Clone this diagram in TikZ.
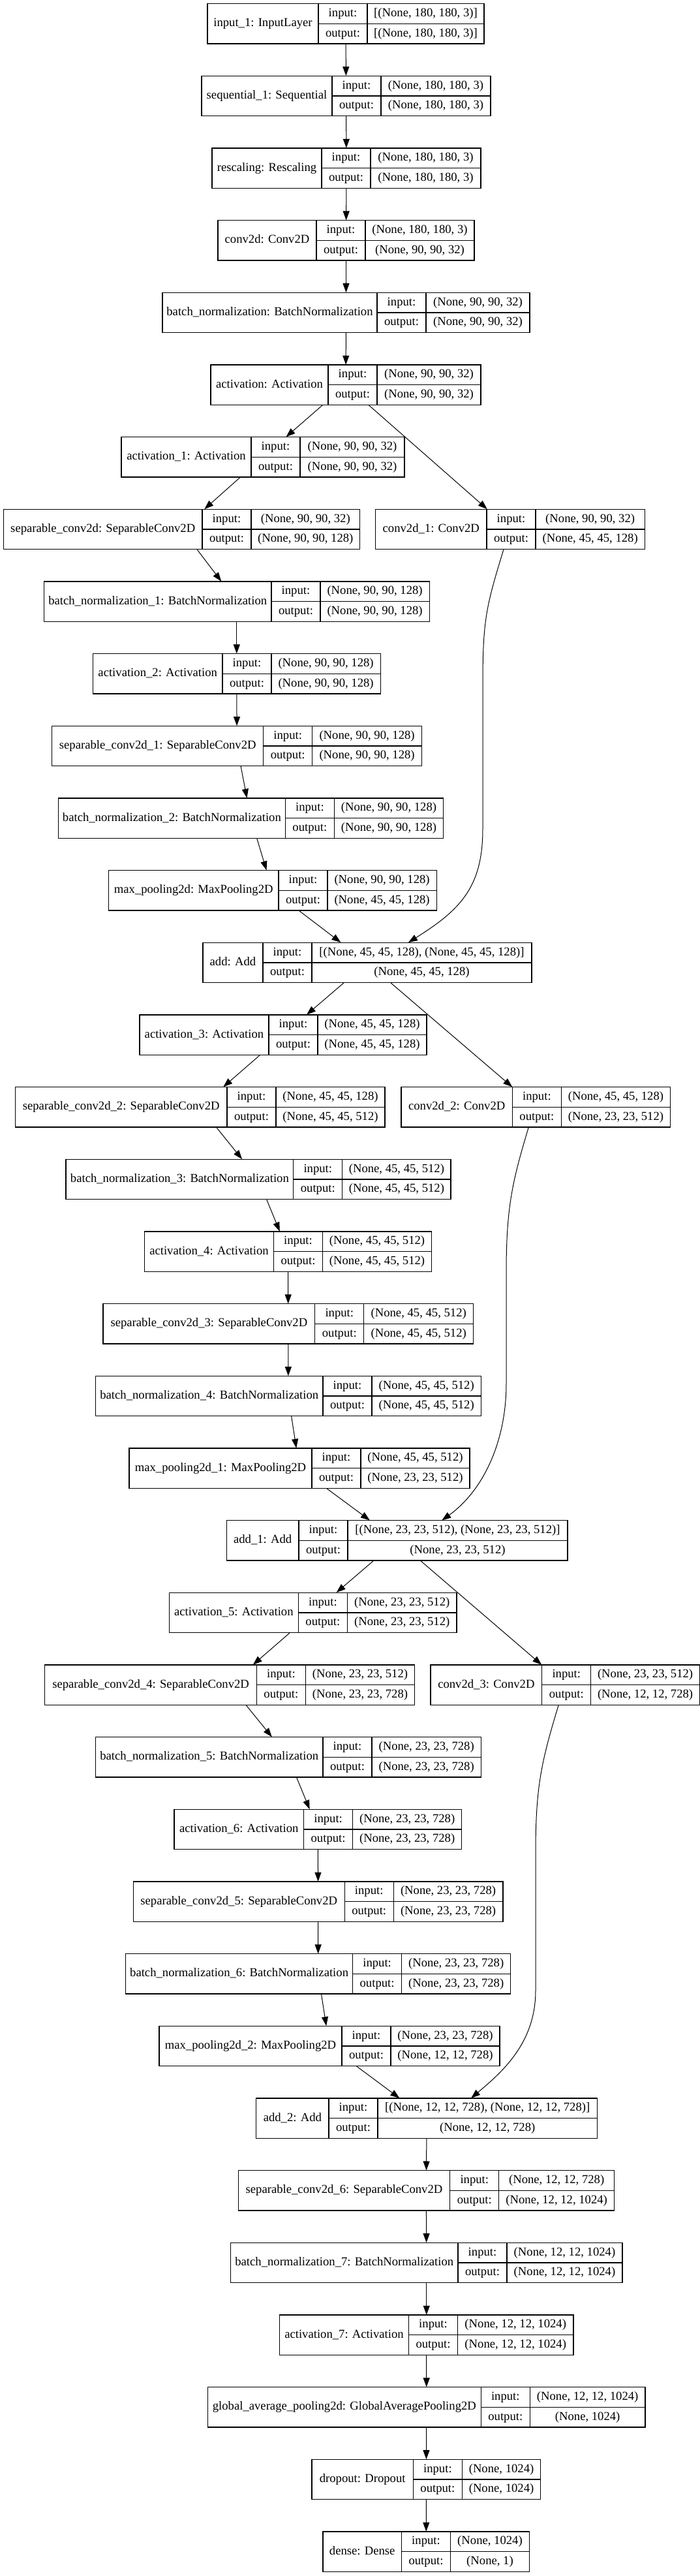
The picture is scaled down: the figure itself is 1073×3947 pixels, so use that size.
\documentclass[tikz,border=0pt]{standalone}
\usepackage{fontspec}
\setmainfont{Liberation Serif}
\usetikzlibrary{arrows.meta, positioning, fit, calc}

\newcommand{\pxunit}{0.75pt}
% one layer record: name, row, left, split, right, label, input, output
\newcommand{\layerbox}[8]{%
  \node[namecell, minimum width={(#4-#3)*\pxunit}] (#1-name) at (#3,{5.7+110.667*#2}) {#6};
  \node[iocell, anchor=north west] (#1-in) at (#1-name.north east) {input:};
  \node[iocell, below=0pt of #1-in] (#1-out) {output:};
  \node[valcell, minimum width={(#5-#4-75)*\pxunit}, right=0pt of #1-in] (#1-inval) {#7};
  \node[valcell, minimum width={(#5-#4-75)*\pxunit}, right=0pt of #1-out] (#1-outval) {#8};
  \node[fit=(#1-name)(#1-outval), inner sep=0pt] (#1) {};
}

\begin{document}
\begin{tikzpicture}[
  x=0.75pt, y=-0.75pt,
  cell/.style={
    draw,
    line width=1pt,
    rectangle,
    outer sep=0pt,
    inner sep=0pt,
    text height=9.5pt,
    text depth=3pt,
    font=\fontsize{14pt}{16pt}\selectfont
  },
  namecell/.style={cell, anchor=north west, minimum height=46pt},
  iocell/.style={cell, minimum width=75*\pxunit, minimum height=23pt},
  valcell/.style={cell, minimum height=23pt},
  flow/.style={line width=0.75pt, -{Triangle[length=10.5pt, width=7.5pt]}}
]

  \useasboundingbox (0,0) rectangle (1073,3947);

  % stem
  \layerbox{inp}{0}{318}{488}{742}{input\_1: InputLayer}{[(None, 180, 180, 3)]}{[(None, 180, 180, 3)]}
  \layerbox{seq}{1}{309}{509}{752}{sequential\_1: Sequential}{(None, 180, 180, 3)}{(None, 180, 180, 3)}
  \layerbox{rescale}{2}{325}{493}{737}{rescaling: Rescaling}{(None, 180, 180, 3)}{(None, 180, 180, 3)}
  \layerbox{conv}{3}{334}{485}{727}{conv2d: Conv2D}{(None, 180, 180, 3)}{(None, 90, 90, 32)}
  \layerbox{bn}{4}{249}{578}{812}{batch\_normalization: BatchNormalization}{(None, 90, 90, 32)}{(None, 90, 90, 32)}
  \layerbox{act}{5}{323}{503}{737}{activation: Activation}{(None, 90, 90, 32)}{(None, 90, 90, 32)}

  % first block
  \layerbox{act1}{6}{186}{385}{620}{activation\_1: Activation}{(None, 90, 90, 32)}{(None, 90, 90, 32)}
  \layerbox{sep}{7}{5.5}{310}{551.6}{separable\_conv2d: SeparableConv2D}{(None, 90, 90, 32)}{(None, 90, 90, 128)}
  \layerbox{conv1}{7}{575.6}{746}{988.3}{conv2d\_1: Conv2D}{(None, 90, 90, 32)}{(None, 45, 45, 128)}
  \layerbox{bn1}{8}{67.4}{416}{658.2}{batch\_normalization\_1: BatchNormalization}{(None, 90, 90, 128)}{(None, 90, 90, 128)}
  \layerbox{act2}{9}{142.4}{341}{583.2}{activation\_2: Activation}{(None, 90, 90, 128)}{(None, 90, 90, 128)}
  \layerbox{sep1}{10}{79.8}{403.7}{646.5}{separable\_conv2d\_1: SeparableConv2D}{(None, 90, 90, 128)}{(None, 90, 90, 128)}
  \layerbox{bn2}{11}{89.4}{437.4}{679.5}{batch\_normalization\_2: BatchNormalization}{(None, 90, 90, 128)}{(None, 90, 90, 128)}
  \layerbox{pool}{12}{166.4}{427}{669.2}{max\_pooling2d: MaxPooling2D}{(None, 90, 90, 128)}{(None, 45, 45, 128)}
  \layerbox{add}{13}{310.9}{403}{815}{add: Add}{[(None, 45, 45, 128), (None, 45, 45, 128)]}{(None, 45, 45, 128)}

  % second block
  \layerbox{act3}{14}{213.9}{412}{654}{activation\_3: Activation}{(None, 45, 45, 128)}{(None, 45, 45, 128)}
  \layerbox{sep2}{15}{23.4}{348}{590}{separable\_conv2d\_2: SeparableConv2D}{(None, 45, 45, 128)}{(None, 45, 45, 512)}
  \layerbox{conv2}{15}{615}{785.4}{1027.5}{conv2d\_2: Conv2D}{(None, 45, 45, 128)}{(None, 23, 23, 512)}
  \layerbox{bn3}{16}{101}{449.8}{691}{batch\_normalization\_3: BatchNormalization}{(None, 45, 45, 512)}{(None, 45, 45, 512)}
  \layerbox{act4}{17}{221.5}{419.5}{661.6}{activation\_4: Activation}{(None, 45, 45, 512)}{(None, 45, 45, 512)}
  \layerbox{sep3}{18}{158}{482.8}{725.6}{separable\_conv2d\_3: SeparableConv2D}{(None, 45, 45, 512)}{(None, 45, 45, 512)}
  \layerbox{bn4}{19}{146.5}{495}{737.3}{batch\_normalization\_4: BatchNormalization}{(None, 45, 45, 512)}{(None, 45, 45, 512)}
  \layerbox{pool1}{20}{198}{478}{720}{max\_pooling2d\_1: MaxPooling2D}{(None, 45, 45, 512)}{(None, 23, 23, 512)}
  \layerbox{add1}{21}{347.3}{458}{870}{add\_1: Add}{[(None, 23, 23, 512), (None, 23, 23, 512)]}{(None, 23, 23, 512)}

  % third block
  \layerbox{act5}{22}{259.3}{457.4}{700}{activation\_5: Activation}{(None, 23, 23, 512)}{(None, 23, 23, 512)}
  \layerbox{sep4}{23}{68.8}{393.4}{635.5}{separable\_conv2d\_4: SeparableConv2D}{(None, 23, 23, 512)}{(None, 23, 23, 728)}
  \layerbox{conv3}{23}{660}{830.8}{1072.4}{conv2d\_3: Conv2D}{(None, 23, 23, 512)}{(None, 12, 12, 728)}
  \layerbox{bn5}{24}{146.5}{495}{737.3}{batch\_normalization\_5: BatchNormalization}{(None, 23, 23, 728)}{(None, 23, 23, 728)}
  \layerbox{act6}{25}{266.9}{465.6}{707.7}{activation\_6: Activation}{(None, 23, 23, 728)}{(None, 23, 23, 728)}
  \layerbox{sep5}{26}{204.3}{528.2}{771}{separable\_conv2d\_5: SeparableConv2D}{(None, 23, 23, 728)}{(None, 23, 23, 728)}
  \layerbox{bn6}{27}{192.6}{540.6}{782.7}{batch\_normalization\_6: BatchNormalization}{(None, 23, 23, 728)}{(None, 23, 23, 728)}
  \layerbox{pool2}{28}{244}{524}{766}{max\_pooling2d\_2: MaxPooling2D}{(None, 23, 23, 728)}{(None, 12, 12, 728)}
  \layerbox{add2}{29}{392.7}{504}{915.4}{add\_2: Add}{[(None, 12, 12, 728), (None, 12, 12, 728)]}{(None, 12, 12, 728)}

  % head
  \layerbox{sep6}{30}{365.2}{689.8}{941.5}{separable\_conv2d\_6: SeparableConv2D}{(None, 12, 12, 728)}{(None, 12, 12, 1024)}
  \layerbox{bn7}{31}{353.5}{702}{954}{batch\_normalization\_7: BatchNormalization}{(None, 12, 12, 1024)}{(None, 12, 12, 1024)}
  \layerbox{act7}{32}{428.5}{626.5}{879}{activation\_7: Activation}{(None, 12, 12, 1024)}{(None, 12, 12, 1024)}
  \layerbox{gap}{33}{318.4}{737.3}{989}{global\_average\_pooling2d: GlobalAveragePooling2D}{(None, 12, 12, 1024)}{(None, 1024)}
  \layerbox{drop}{34}{478}{633.4}{828.7}{dropout: Dropout}{(None, 1024)}{(None, 1024)}
  \layerbox{dense}{35}{495}{615.5}{811.5}{dense: Dense}{(None, 1024)}{(None, 1)}

  % straight connectors
  \draw[flow] (inp) -- (seq);
  \draw[flow] (seq) -- (rescale);
  \draw[flow] (rescale) -- (conv);
  \draw[flow] (conv) -- (bn);
  \draw[flow] (bn) -- (act);
  \draw[flow] (act) -- (act1);
  \draw[flow] (act) -- (conv1);
  \draw[flow] (act1) -- (sep);
  \draw[flow] (sep) -- (bn1);
  \draw[flow] (bn1) -- (act2);
  \draw[flow] (act2) -- (sep1);
  \draw[flow] (sep1) -- (bn2);
  \draw[flow] (bn2) -- (pool);
  \draw[flow] (pool) -- (add);
  \draw[flow] (add) -- (act3);
  \draw[flow] (add) -- (conv2);
  \draw[flow] (act3) -- (sep2);
  \draw[flow] (sep2) -- (bn3);
  \draw[flow] (bn3) -- (act4);
  \draw[flow] (act4) -- (sep3);
  \draw[flow] (sep3) -- (bn4);
  \draw[flow] (bn4) -- (pool1);
  \draw[flow] (pool1) -- (add1);
  \draw[flow] (add1) -- (act5);
  \draw[flow] (add1) -- (conv3);
  \draw[flow] (act5) -- (sep4);
  \draw[flow] (sep4) -- (bn5);
  \draw[flow] (bn5) -- (act6);
  \draw[flow] (act6) -- (sep5);
  \draw[flow] (sep5) -- (bn6);
  \draw[flow] (bn6) -- (pool2);
  \draw[flow] (pool2) -- (add2);
  \draw[flow] (add2) -- (sep6);
  \draw[flow] (sep6) -- (bn7);
  \draw[flow] (bn7) -- (act7);
  \draw[flow] (act7) -- (gap);
  \draw[flow] (gap) -- (drop);
  \draw[flow] (drop) -- (dense);

  % residual connectors
  \draw[flow] ($(conv1.south)+(-10,0)$) .. controls +(-27,88) and +(0,-100) .. (740,1050)
    -- (740,1270) .. controls +(0,90) and +(79,-49.7) .. ($(add.north)+(63,0)$);
  \draw[flow] ($(conv2.south)+(-11,0)$) .. controls +(-25,83) and +(0,-100) .. (776,1950)
    -- (776,2120) .. controls +(0,90) and +(62.6,-45) .. ($(add1.north)+(68.7,0)$);
  \draw[flow] ($(conv3.south)+(-10,0)$) .. controls +(-27,88) and +(0,-100) .. (821,2840)
    -- (821,3050) .. controls +(0,80) and +(48,-40.3) .. ($(add2.north)+(68,0)$);

\end{tikzpicture}
\end{document}
